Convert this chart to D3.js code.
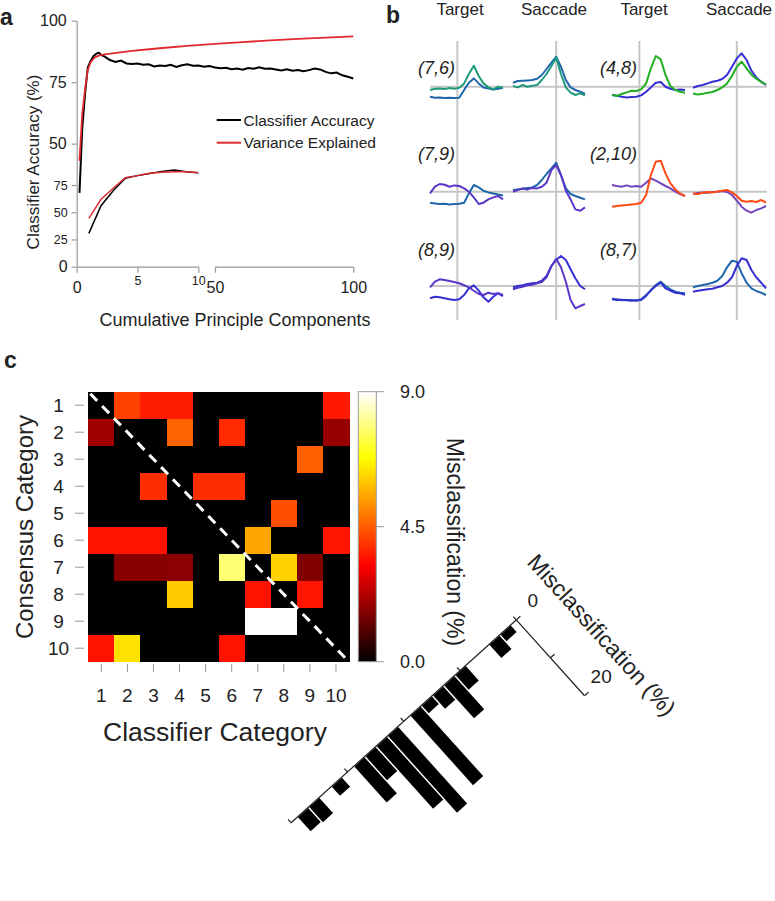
<!DOCTYPE html>
<html>
<head>
<meta charset="utf-8">
<script src="https://cdn.jsdelivr.net/npm/d3@7"></script>
<style>
  body { margin: 0; background: #fff; }
  svg { display: block; }
  text { font-family: "Liberation Sans", Arial, sans-serif; fill: #222; }
</style>
</head>
<body>
<svg id="fig" width="775" height="901"></svg>
<script>
// ---------- panel a data ----------
const pcMain = [1,2,3,4,5,6,7,8,9,10,12,14,16,18,20,22,24,26,28,30,32,34,36,38,40,42,44,46,48,50,
  52,54,56,58,60,62,64,66,68,70,72,74,76,78,80,82,84,86,88,90,92,94,96,98,100];
const accuracyMain = [30,56,70,81,83.5,85.5,86.5,87,86,85.5,84,83.2,83.8,82.6,82.4,82.6,82.1,82.3,81.4,81.8,
  81.6,82.1,81.2,81.9,82.3,81.7,81.8,81.3,81.6,81.0,80.7,80.9,80.3,80.6,80.1,80.8,80.5,81.1,80.5,80.6,
  80.2,79.8,80.3,79.7,80.0,79.5,79.9,80.6,80.2,79.2,78.6,78.9,77.8,77.2,76.5];
const pcVariance = [1,2,3,4,5,6,7,8,10,15,20,30,40,50,60,70,80,90,100];
const varianceMain = [43,62,72,80,83,84.5,85.3,85.8,86.3,87,87.7,88.8,89.8,90.6,91.3,92,92.6,93.1,93.6];
const pcInset = [1,2,3,4,5,6,7,8,9,10];
const accuracyInset = [30.6,56,69.8,81.2,83.6,85.5,87.5,88.8,87.2,86.3];
const varianceInset = [44.4,61.9,72,81.7,83.6,85.8,86.7,87.2,87.2,86.3];

// ---------- panel b data (normalised response, sampled across each epoch) ----------
const targetTimes = [-150,-123,-97,-70,-43,-17,10,37,63,90,117,143,170,197,223,250];
const saccadeTimes = [-300,-267,-233,-200,-167,-133,-100,-67,-33,0,33,67,100,133,167,200];
const p76TargetCat6 = [-3.3,-2,-1.7,-2.3,-1.3,-2,-1,3.3,12.7,21,10.7,3.3,-0.7,-2.7,0,-1];
const p76TargetCat7 = [-10,-11,-10.7,-11.3,-11,-11.3,-11,-3.3,4,8.3,3.3,-0.7,-1.7,-2.7,-2,-1];
const p76SaccadeCat6 = [0.7,-0.7,1.7,0,1,1.7,6.7,12.7,20.7,29.3,12.7,-0.7,-6,-8.3,-6.7,-8.7];
const p76SaccadeCat7 = [4,5.7,6,6.3,6.7,8,11.7,17.7,24,30,20,6.7,-0.7,-3.3,-5,-7.3];
const p48TargetCat4 = [-8.3,-9.3,-7.3,-5.7,-4,-4.3,-2.7,3.3,18.3,30.7,27.3,11.7,0.7,-3.3,-5,-6];
const p48TargetCat8 = [-8,-9,-10,-10.7,-10.3,-10,-8.7,-5,-0.7,4,4.7,0,-2,-3.3,-2.7,-3.3];
const p48SaccadeCat8 = [-1,0.7,1.7,3.3,5,6,7.7,11.7,20,28.3,33.3,26.7,16,9.3,5,1.7];
const p48SaccadeCat4 = [-6.7,-7.7,-7,-6,-5.3,-3.3,-0.7,3.3,10.7,20,25,18.3,12,8,4.7,2.3];
const p79TargetCat9 = [-1.7,5,7.7,7,5,6.3,5.7,3.3,0,-5.7,-12.3,-11,-7.7,-5.7,-4.3,-7.7];
const p79TargetCat7 = [-11,-11.7,-12.3,-12,-12.7,-12.3,-12,-11,-1.7,6.7,4.3,1,-0.7,-1.7,-2.7,-3.7];
const p79SaccadeCat7 = [1.7,2.3,3,3.7,4.3,6.7,11.7,17.7,23.3,29,16.7,3.3,-2.3,-4.3,-6,-7.7];
const p79SaccadeCat9 = [0,1.7,3.3,2.3,3.7,3.3,5,9,21.7,26.7,16.7,1,-7.7,-17.7,-19,-15.7];
const p210TargetCat10 = [6.7,5.7,5,6.3,5,5.7,5,9,13.3,11,8.3,5.7,3.3,0,-2.3,-4.3];
const p210TargetCat2 = [-15,-14.3,-13.7,-13.3,-12.7,-12.3,-11,-3.3,16.7,30,31,18.3,8.3,2.3,-1.7,-4.3];
const p210SaccadeCat2 = [-1.7,-2.3,-1,-0.3,-0.7,0.3,1,1.7,-0.7,-4.3,-9,-10,-9.3,-10.3,-8.3,-11];
const p210SaccadeCat10 = [-2.3,-1.3,-0.7,-1,-0.3,0,0.7,-0.3,-3.3,-9,-15,-19,-21,-18.3,-16.7,-14.3];
const p89TargetCat9 = [-1.3,4.3,6.7,6,5,4,2.7,0.7,-1.3,-4.7,-8,-9,-6.7,-8,-7.3,-9];
const p89TargetCat8 = [-12.3,-10.7,-11.3,-12.3,-13.3,-14,-13.3,-9,-2.3,0.7,-4.7,-11.3,-15.7,-10.7,-7.3,-10];
const p89SaccadeCat9 = [-3.3,-1.7,-0.7,0.7,1.3,2.7,4,8.7,20,27.3,18.7,4.3,-14,-22.3,-20,-18];
const p89SaccadeCat8 = [-1.3,0,0.7,2,2.7,3.3,5.3,10,20,26,30,26,16.7,7.7,0,-3.3];
const p87TargetCat8 = [-13.3,-14,-13.7,-14.3,-14.7,-14.3,-14,-10,-4,0,3.3,-2.3,-4.7,-6.7,-7.3,-8.7];
const p87TargetCat7 = [-12.7,-13.3,-14.3,-14,-14,-14.7,-13.3,-9,-4.7,1,4.3,0,-3.3,-5.7,-6.7,-7.3];
const p87SaccadeCat7 = [-1.3,0,1,2,3.3,5.3,10,18.7,25.3,24.3,12.7,3.3,-2.3,-5,-6.7,-9];
const p87SaccadeCat8 = [-5.7,-4.7,-4,-3.3,-2.7,-1.3,0,3.3,8.7,20,27.7,26,16,8.7,3.3,-2.3];
const catColor = {2: "#ff4a14", 4: "#22b022", 6: "#1f9a7a", 7: "#1f66aa", 8: "#3530d4", 9: "#5a36c8", 10: "#7444be"};

// ---------- panel c data ----------
const categories = [1,2,3,4,5,6,7,8,9,10];
const misclassRows = [
  [0, 4.1, 3.6, 3.6, 0, 0, 0, 0, 0, 3.55],
  [2.0, 0, 0, 4.6, 0, 3.8, 0, 0, 0, 1.9],
  [0, 0, 0, 0, 0, 0, 0, 0, 4.55, 0],
  [0, 0, 3.85, 0, 3.85, 3.85, 0, 0, 0, 0],
  [0, 0, 0, 0, 0, 0, 0, 4.3, 0, 0],
  [3.45, 3.45, 3.45, 0, 0, 0, 5.55, 0, 0, 3.5],
  [0, 1.7, 1.7, 1.75, 0, 7.8, 0, 6.15, 1.6, 0],
  [0, 0, 0, 6.05, 0, 0, 3.45, 0, 3.5, 0],
  [0, 0, 0, 0, 0, 0, 9, 9, 0, 0],
  [3.45, 6.4, 0, 0, 0, 3.45, 0, 0, 0, 0]
];
const colorTicks = [0, 4.5, 9];
// diagonal profile (position along the anti-diagonal, misclassification %)
const diagPos = [1,2,5,6,7,8,9,11,12,13,14,16,18,19];
const diagMis = [1.7,3.5,3.8,8.7,3.5,2.0,18.3,20.2,16.5,6.3,9.5,2.4,4.0,3.7];

const svg = d3.select("#fig");
const gray = "#999";

function label(x, y, txt, size, opts = {}) {
  const t = svg.append("text").attr("x", x).attr("y", y).attr("font-size", size).text(txt);
  if (opts.anchor) t.attr("text-anchor", opts.anchor);
  if (opts.bold) t.attr("font-weight", "bold");
  if (opts.italic) t.attr("font-style", "italic");
  if (opts.rotate !== undefined) t.attr("transform", `rotate(${opts.rotate},${x},${y})`);
  return t;
}

label(0, 25, "a", 23, {bold: true});
label(386, 23, "b", 23, {bold: true});
label(4, 368, "c", 23, {bold: true});

// ================= panel a =================
const ax = d3.scaleLinear().domain([0, 100]).range([76.7, 353.3]);
const ay = d3.scaleLinear().domain([0, 100]).range([266.7, 20.7]);
const ix = d3.scaleLinear().domain([0, 10]).range([76.7, 198.3]);
const iy = d3.scaleLinear().domain([0, 75]).range([266.7, 185]);

function grayAxis(g) {
  g.selectAll("path, line").attr("stroke", gray).attr("stroke-width", 1.2);
  g.selectAll("text").attr("fill", "#222").attr("font-family", "Liberation Sans, Arial, sans-serif");
}

svg.append("g").attr("transform", "translate(76.7,0)")
  .call(d3.axisLeft(ay).tickValues([50, 75, 100]).tickSize(5).tickPadding(5).tickSizeOuter(0))
  .call(grayAxis).call(g => g.selectAll("text").attr("font-size", 16));
svg.append("g").attr("transform", "translate(76.7,0)")
  .call(d3.axisLeft(iy).tickValues([0, 25, 50, 75]).tickSize(5).tickPadding(4))
  .call(grayAxis)
  .call(g => g.select(".domain").remove())
  .call(g => g.selectAll("text").attr("font-size", d => d === 0 ? 16 : 12.5));

svg.append("g").attr("transform", "translate(0,266.7)")
  .call(d3.axisBottom(ix).tickValues([0, 5, 10]).tickSize(6).tickPadding(3).tickSizeOuter(0))
  .call(grayAxis)
  .call(g => g.selectAll("text")
    .attr("dy", d => d === 0 ? "1.1em" : "0.71em")
    .attr("font-size", d => d === 0 ? 16 : 12.5));
const axRight = d3.scaleLinear().domain([50, 100]).range([ax(50), ax(100)]);
svg.append("g").attr("transform", "translate(0,266.7)")
  .call(d3.axisBottom(axRight).tickValues([50, 100]).tickSize(6).tickPadding(9).tickSizeOuter(0))
  .call(grayAxis).call(g => g.selectAll("text").attr("font-size", 16));

label(33, 162, "Classifier Accuracy (%)", 17, {anchor: "middle", rotate: -90}).attr("dy", "0.35em");
label(235, 326, "Cumulative Principle Components", 18, {anchor: "middle"});

const lineMain = d3.line().x(d => ax(d[0])).y(d => ay(d[1]));
const lineInset = d3.line().x(d => ix(d[0])).y(d => iy(d[1]));
svg.append("path").datum(d3.zip(pcMain, accuracyMain)).attr("d", lineMain)
  .attr("fill", "none").attr("stroke", "#000").attr("stroke-width", 2);
svg.append("path").datum(d3.zip(pcVariance, varianceMain)).attr("d", lineMain)
  .attr("fill", "none").attr("stroke", "#e0282e").attr("stroke-width", 1.8);
svg.append("path").datum(d3.zip(pcInset, accuracyInset)).attr("d", lineInset)
  .attr("fill", "none").attr("stroke", "#000").attr("stroke-width", 1.5);
svg.append("path").datum(d3.zip(pcInset, varianceInset)).attr("d", lineInset)
  .attr("fill", "none").attr("stroke", "#e0282e").attr("stroke-width", 1.4);

[["Classifier Accuracy", "#000", 120], ["Variance Explained", "#e0282e", 142.7]].forEach(([name, col, y]) => {
  svg.append("line").attr("x1", 216.7).attr("x2", 241).attr("y1", y).attr("y2", y)
    .attr("stroke", col).attr("stroke-width", 2);
  label(243.5, y, name, 15.5).attr("dy", "0.36em");
});

// ================= panel b =================
const headers = [["Target", 460], ["Saccade", 554], ["Target", 644], ["Saccade", 739]];
headers.forEach(([h, x]) => label(x, 15, h, 17, {anchor: "middle"}));

const epochCols = [
  {range: [430, 503], target: true}, {range: [513, 585], target: false},
  {range: [612, 685], target: true}, {range: [693, 766], target: false}
];
const epochX = epochCols.map(c =>
  d3.scaleLinear().domain(c.target ? [-150, 250] : [-300, 200]).range(c.range));
const rowBase = [86.7, 191.7, 286];

const guides = svg.append("g").attr("stroke", "#c6c6c6").attr("stroke-width", 2);
rowBase.forEach(y => guides.append("line").attr("x1", 430).attr("x2", 767).attr("y1", y).attr("y2", y));
epochX.forEach(sx => guides.append("line").attr("x1", sx(0)).attr("x2", sx(0)).attr("y1", 41).attr("y2", 320));

const pairs = [
  {name: "(7,6)", row: 0, col: 0, traces: [[7, p76TargetCat7, p76SaccadeCat7], [6, p76TargetCat6, p76SaccadeCat6]]},
  {name: "(4,8)", row: 0, col: 1, traces: [[8, p48TargetCat8, p48SaccadeCat8], [4, p48TargetCat4, p48SaccadeCat4]]},
  {name: "(7,9)", row: 1, col: 0, traces: [[7, p79TargetCat7, p79SaccadeCat7], [9, p79TargetCat9, p79SaccadeCat9]]},
  {name: "(2,10)", row: 1, col: 1, traces: [[10, p210TargetCat10, p210SaccadeCat10], [2, p210TargetCat2, p210SaccadeCat2]]},
  {name: "(8,9)", row: 2, col: 0, traces: [[8, p89TargetCat8, p89SaccadeCat8], [9, p89TargetCat9, p89SaccadeCat9]]},
  {name: "(8,7)", row: 2, col: 1, traces: [[7, p87TargetCat7, p87SaccadeCat7], [8, p87TargetCat8, p87SaccadeCat8]]}
];
const labelBase = [74, 160, 256];
pairs.forEach(p => {
  const base = rowBase[p.row];
  const ry = d3.scaleLinear().domain([-40, 40]).range([base + 40, base - 40]);
  const sxT = epochX[p.col * 2], sxS = epochX[p.col * 2 + 1];
  label(p.col === 0 ? 455 : 637, labelBase[p.row], p.name, 18, {anchor: "end", italic: true});
  p.traces.forEach(([cat, tgt, sac]) => {
    [[sxT, targetTimes, tgt], [sxS, saccadeTimes, sac]].forEach(([sx, times, vals]) => {
      svg.append("path").datum(d3.zip(times, vals))
        .attr("d", d3.line().x(d => sx(d[0])).y(d => ry(d[1])))
        .attr("fill", "none").attr("stroke", catColor[cat]).attr("stroke-width", 2)
        .attr("stroke-linejoin", "round");
    });
  });
});

// ================= panel c: heatmap =================
const hx = d3.scaleBand().domain(categories).range([88.3, 349]);
const hy = d3.scaleBand().domain(categories).range([391.7, 661.7]);
const heat = d3.scaleLinear().domain([0, 3.2, 6.8, 9]).range(["#000000", "#ff0000", "#ffff00", "#ffffff"]);

const cells = [];
misclassRows.forEach((row, i) => row.forEach((v, j) => cells.push({r: categories[i], c: categories[j], v})));
svg.append("g").attr("shape-rendering", "crispEdges")
  .selectAll("rect").data(cells).join("rect")
  .attr("x", d => hx(d.c)).attr("y", d => hy(d.r))
  .attr("width", hx.bandwidth() + 0.6).attr("height", hy.bandwidth() + 0.6)
  .attr("fill", d => heat(d.v));

svg.append("line").attr("x1", hx.range()[0] + 2).attr("y1", hy.range()[0] + 2)
  .attr("x2", hx.range()[1] - 4).attr("y2", hy.range()[1] - 4)
  .attr("stroke", "#fff").attr("stroke-width", 3).attr("stroke-dasharray", "10,7");

// row / column ticks and labels
categories.forEach(c => {
  const y = hy(c) + hy.bandwidth() / 2;
  svg.append("line").attr("x1", 75).attr("x2", 84).attr("y1", y).attr("y2", y).attr("stroke", gray);
  label(58.5, y, c, 19, {anchor: "middle"}).attr("dy", "0.36em");
  const x = hx(c) + hx.bandwidth() / 2;
  svg.append("line").attr("x1", x).attr("x2", x).attr("y1", 664).attr("y2", 672).attr("stroke", gray);
  label(x, 702, c, 19, {anchor: "middle"});
});
label(25, 527, "Consensus Category", 24, {anchor: "middle", rotate: -90}).attr("dy", "0.35em");
label(215, 741, "Classifier Category", 26.5, {anchor: "middle"});

// colour bar
const cbY = d3.scaleLinear().domain([0, 9]).range([661.7, 391.7]);
const grad = svg.append("defs").append("linearGradient").attr("id", "hot")
  .attr("x1", 0).attr("y1", 1).attr("x2", 0).attr("y2", 0);
heat.domain().forEach(v => grad.append("stop").attr("offset", v / 9).attr("stop-color", heat(v)));
svg.append("rect").attr("x", 358.3).attr("y", cbY(9)).attr("width", 18).attr("height", cbY(0) - cbY(9))
  .attr("fill", "url(#hot)").attr("stroke", gray).attr("stroke-width", 1);
colorTicks.forEach(v => {
  svg.append("line").attr("x1", 376.3).attr("x2", 384).attr("y1", cbY(v)).attr("y2", cbY(v)).attr("stroke", gray);
  label(400, cbY(v), v.toFixed(1), 18).attr("dy", "0.36em");
});
label(455, 542, "Misclassification (%)", 23, {anchor: "middle", rotate: 90}).attr("dy", "0.35em");

// ================= panel c: rotated diagonal profile =================
const bx = d3.scaleLinear().domain([0, 20]).range([0, 303]);
const by = d3.scaleLinear().domain([0, 20]).range([0, -102]);
const bars = svg.append("g").attr("transform", "translate(517,620) rotate(138)");
bars.selectAll("rect").data(d3.zip(diagPos, diagMis)).join("rect")
  .attr("x", d => bx(d[0] - 0.5) + 0.75)
  .attr("width", bx(1) - 1.5)
  .attr("y", d => by(d[1]))
  .attr("height", d => -by(d[1]))
  .attr("fill", "#000");
bars.append("g")
  .call(d3.axisBottom(bx).tickValues([0, 5, 10, 15, 20]).tickSize(5).tickFormat("").tickSizeOuter(0))
  .call(g => g.selectAll("path, line").attr("stroke", "#222").attr("stroke-width", 1.2));
bars.append("g")
  .call(d3.axisLeft(by).tickValues([0, 10, 20]).tickSize(5).tickFormat("").tickSizeOuter(0))
  .call(g => g.selectAll("path, line").attr("stroke", "#222").attr("stroke-width", 1.2));
[0, 20].forEach(v => {
  bars.append("text").attr("transform", `translate(-25,${by(v) + 4}) rotate(-138)`)
    .attr("text-anchor", "middle").attr("dy", "0.36em").attr("font-size", 19).text(v);
});
bars.append("text").attr("transform", `translate(-53,${by(13.3)}) rotate(-90)`)
  .attr("text-anchor", "middle").attr("dy", "0.35em").attr("font-size", 23).text("Misclassification (%)");
</script>
</body>
</html>
